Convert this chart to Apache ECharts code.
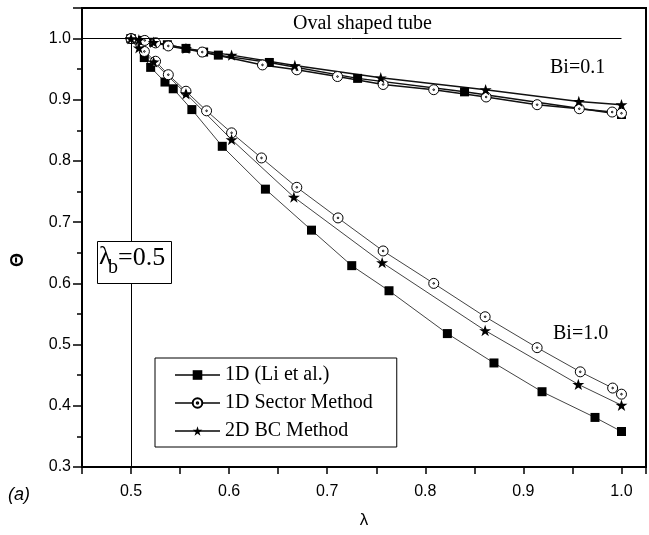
<!DOCTYPE html>
<html><head><meta charset="utf-8">
<script src="https://cdn.jsdelivr.net/npm/echarts@6/dist/echarts.min.js"></script>
<style>html,body{margin:0;padding:0;background:#fff}#c{width:649px;height:535px}</style>
</head><body><div id="c"></div><script>
// ---- data ----
const xTickValues = [0.5, 0.6, 0.7, 0.8, 0.9, 1.0];
const yTickValues = [0.3, 0.4, 0.5, 0.6, 0.7, 0.8, 0.9, 1.0];

// Bi = 1.0
const liBi1Lambda    = [0.5, 0.5135, 0.520, 0.5346, 0.543, 0.562, 0.593, 0.637, 0.684, 0.725, 0.763, 0.8225, 0.870, 0.919, 0.973, 1.0];
const liBi1Theta     = [1.0, 0.969, 0.953, 0.929, 0.918, 0.884, 0.824, 0.754, 0.687, 0.629, 0.588, 0.518, 0.470, 0.423, 0.381, 0.358];
const sectorBi1Lambda= [0.5, 0.5136, 0.525, 0.538, 0.556, 0.577, 0.6025, 0.633, 0.669, 0.711, 0.757, 0.8086, 0.861, 0.914, 0.958, 0.991, 1.0];
const sectorBi1Theta = [1.0, 0.979, 0.963, 0.941, 0.914, 0.882, 0.846, 0.805, 0.757, 0.707, 0.653, 0.600, 0.5455, 0.495, 0.4555, 0.429, 0.419];
const bcBi1Lambda    = [0.5, 0.508, 0.523, 0.556, 0.6025, 0.666, 0.756, 0.861, 0.956, 1.0];
const bcBi1Theta     = [1.0, 0.985, 0.962, 0.910, 0.835, 0.741, 0.634, 0.523, 0.435, 0.401];

// Bi = 0.1
const liBi01Lambda    = [0.5, 0.512, 0.523, 0.537, 0.556, 0.574, 0.589, 0.641, 0.731, 0.840, 1.0];
const liBi01Theta     = [1.0, 0.997, 0.994, 0.990, 0.984, 0.978, 0.973, 0.961, 0.935, 0.913, 0.876];
const sectorBi01Lambda= [0.5, 0.514, 0.525, 0.538, 0.5726, 0.634, 0.669, 0.7105, 0.757, 0.8086, 0.862, 0.914, 0.957, 0.9905, 1.0];
const sectorBi01Theta = [1.0, 0.997, 0.993, 0.988, 0.978, 0.957, 0.949, 0.938, 0.925, 0.9165, 0.9046, 0.892, 0.8854, 0.880, 0.878];
const bcBi01Lambda    = [0.5, 0.508, 0.523, 0.556, 0.6025, 0.667, 0.7546, 0.8615, 0.9565, 1.0];
const bcBi01Theta     = [1.0, 0.998, 0.994, 0.984, 0.973, 0.956, 0.936, 0.9165, 0.8974, 0.892];

const seriesNames = ['1D (Li et al.)', '1D Sector Method', '2D BC Method'];
const lambdaB = 0.5;
const thetaRef = 1.0;

// ---- build ----
const zip = (a, b) => a.map((v, i) => [v, b[i]]);
const STAR = 'path://M0,-10L2.245,-3.09L9.51,-3.09L3.63,1.18L5.88,8.09L0,3.82L-5.88,8.09L-3.63,1.18L-9.51,-3.09L-2.245,-3.09Z';
const CIRC = 'path://M10,0A10,10,0,1,1,-10,0A10,10,0,1,1,10,0ZM1.6,0A1.6,1.6,0,1,1,-1.6,0A1.6,1.6,0,1,1,1.6,0Z';
const is01 = v => Math.abs(v * 10 - Math.round(v * 10)) < 1e-6;
const fmt = v => is01(v) ? v.toFixed(1) : '';

const thin = {color: '#444', width: 1};
const thick = {color: '#111', width: 1.5};
function mk(name, data, kind, line) {
  const s = {
    name, type: 'line', data, lineStyle: line, z: 3,
    symbolKeepAspect: true, animation: false
  };
  if (kind === 'sq') { s.symbol = 'rect'; s.symbolSize = 9; s.itemStyle = {color: '#000'}; }
  if (kind === 'ci') { s.symbol = CIRC; s.symbolSize = 10; s.itemStyle = {color: '#fff', borderColor: '#000', borderWidth: 1}; }
  if (kind === 'st') { s.symbol = STAR; s.symbolSize = 12; s.itemStyle = {color: '#000'}; }
  return s;
}

const series = [
  mk(seriesNames[0], zip(liBi1Lambda, liBi1Theta), 'sq', thin),
  mk(seriesNames[1], zip(sectorBi1Lambda, sectorBi1Theta), 'ci', thin),
  mk(seriesNames[2], zip(bcBi1Lambda, bcBi1Theta), 'st', thin),
  mk(seriesNames[0], zip(liBi01Lambda, liBi01Theta), 'sq', thick),
  mk(seriesNames[1], zip(sectorBi01Lambda, sectorBi01Theta), 'ci', thick),
  mk(seriesNames[2], zip(bcBi01Lambda, bcBi01Theta), 'st', thick)
];
series[0].markLine = {
  silent: true, symbol: ['none', 'none'], animation: false,
  label: {show: false},
  lineStyle: {color: '#000', width: 1, type: 'solid'},
  data: [
    [{coord: [0.45, thetaRef]}, {coord: [1.0, thetaRef]}],
    [{coord: [lambdaB, 0.3]}, {coord: [lambdaB, thetaRef]}]
  ]
};

const chart = echarts.init(document.getElementById('c'), null, {renderer: 'canvas'});
const serif = 'Liberation Serif, Times New Roman, serif';
const sans = 'Liberation Sans, Arial, sans-serif';
chart.setOption({
  backgroundColor: '#fff',
  animation: false,
  grid: {left: 82, right: 3, top: 8, bottom: 68, show: true, borderColor: '#000', borderWidth: 2},
  xAxis: {
    type: 'value', min: 0.45, max: 1.025, interval: 0.05,
    axisLine: {lineStyle: {color: '#000', width: 2}},
    axisTick: {length: 7, lineStyle: {color: '#000', width: 1.5}},
    axisLabel: {formatter: fmt, color: '#000', fontSize: 16, fontFamily: sans, margin: 17},
    splitLine: {show: false},
    name: 'λ', nameLocation: 'middle', nameGap: 45,
    nameTextStyle: {fontSize: 17, color: '#000', fontFamily: sans}
  },
  yAxis: {
    type: 'value', min: 0.3, max: 1.05, interval: 0.1,
    axisLine: {lineStyle: {color: '#000', width: 2}},
    axisTick: {length: 9, lineStyle: {color: '#000', width: 1.5}},
    minorTick: {show: true, splitNumber: 2, length: 5, lineStyle: {color: '#000', width: 1.5}},
    axisLabel: {formatter: fmt, color: '#000', fontSize: 16, fontFamily: sans, margin: 11},
    splitLine: {show: false}
  },
  legend: {
    data: seriesNames, orient: 'vertical', left: 155, top: 358,
    itemWidth: 45, itemHeight: 12, itemGap: 8,
    padding: [7, 24, 6, 19],
    backgroundColor: '#fff', borderColor: '#000', borderWidth: 1,
    textStyle: {fontSize: 20, fontFamily: serif, color: '#000'},
    selectedMode: false
  },
  graphic: [
    {type: 'text', left: 293, top: 14, z: 100, style: {text: 'Oval shaped tube', font: '20px ' + serif, fill: '#000'}},
    {type: 'text', left: 550, top: 58, z: 100, style: {text: 'Bi=0.1', font: '20px ' + serif, fill: '#000'}},
    {type: 'text', left: 553, top: 324, z: 100, style: {text: 'Bi=1.0', font: '20px ' + serif, fill: '#000'}},
    {type: 'rect', left: 97, top: 241, z: 100, shape: {width: 74, height: 42}, style: {fill: '#fff', stroke: '#000', lineWidth: 1}},
    {type: 'text', left: 99, top: 244, z: 101, style: {text: 'λ', font: '26px ' + serif, fill: '#000'}},
    {type: 'text', left: 108, top: 258, z: 101, style: {text: 'b', font: '20px ' + serif, fill: '#000'}},
    {type: 'text', left: 118, top: 245, z: 101, style: {text: '=0.5', font: '26px ' + serif, fill: '#000'}},
    {type: 'text', x: 18, y: 260, rotation: Math.PI / 2, z: 100, style: {text: 'Θ', font: 'bold 18px ' + sans, fill: '#000', align: 'center', verticalAlign: 'middle'}},
    {type: 'text', left: 8, top: 486, z: 100, style: {text: '(a)', font: 'italic 18px ' + sans, fill: '#000'}}
  ],
  series
});
</script></body></html>
